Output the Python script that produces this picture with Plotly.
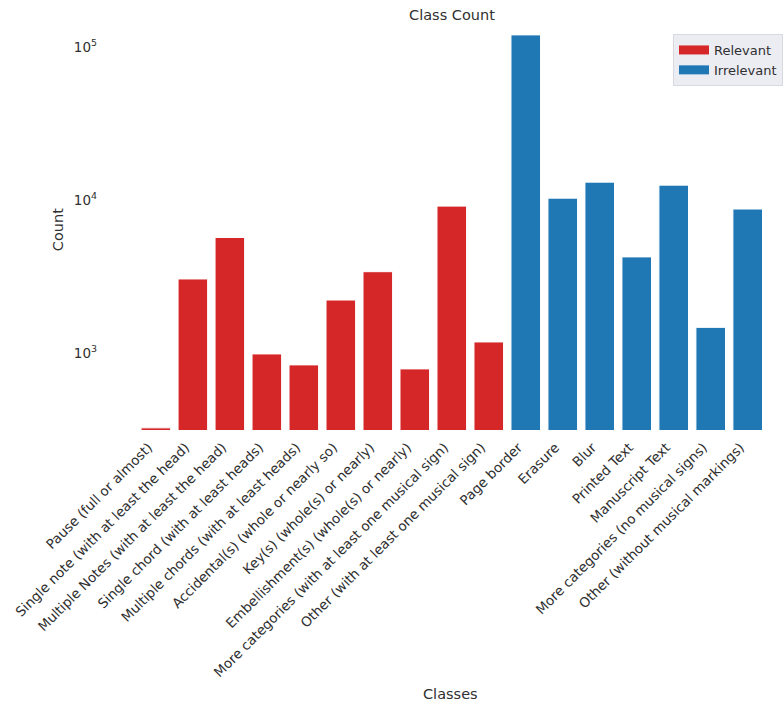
import plotly.graph_objects as go

relevant_classes = [
    "Pause (full or almost)",
    "Single note (with at least the head)",
    "Multiple Notes (with at least the head)",
    "Single chord (with at least heads)",
    "Multiple chords (with at least heads)",
    "Accidental(s) (whole or nearly so)",
    "Key(s) (whole(s) or nearly)",
    "Embellishment(s) (whole(s) or nearly)",
    "More categories (with at least one musical sign)",
    "Other (with at least one musical sign)",
]
relevant_counts = [325, 3050, 5690, 988, 838, 2222, 3402, 789, 9120, 1183]

irrelevant_classes = [
    "Page border",
    "Erasure",
    "Blur",
    "Printed Text",
    "Manuscript Text",
    "More categories (no musical signs)",
    "Other (without musical markings)",
]
irrelevant_counts = [119700, 10280, 13080, 4250, 12500, 1473, 8730]

ytick_vals = [1e3, 1e4, 1e5]
ytick_text = ["10<sup>3</sup>", "10<sup>4</sup>", "10<sup>5</sup>"]

FONT = "DejaVu Sans"
TXT = "#303030"
RED = "#d62728"
BLUE = "#1f77b4"

all_classes = relevant_classes + irrelevant_classes
n_rel = len(relevant_classes)
rel_pos = list(range(n_rel))
irr_pos = list(range(n_rel, n_rel + len(irrelevant_classes)))
LABEL_SHIFT = -0.2  # right-aligned rotated labels sit slightly left of the bar centre
tick_pos = [p + LABEL_SHIFT for p in rel_pos + irr_pos]

# plot area in pixels: x 110..783, y 30..430
L, R, T, B = 110, 783, 30, 430
PW, PH = R - L, B - T

fig = go.Figure()
fig.add_trace(go.Bar(
    x=rel_pos, y=relevant_counts, name="Relevant", showlegend=False,
    customdata=relevant_classes, hovertemplate="%{customdata}: %{y}<extra></extra>",
    marker=dict(color=RED, line=dict(color="white", width=1)),
    width=0.8,
))
fig.add_trace(go.Bar(
    x=irr_pos, y=irrelevant_counts, name="Irrelevant", showlegend=False,
    customdata=irrelevant_classes, hovertemplate="%{customdata}: %{y}<extra></extra>",
    marker=dict(color=BLUE, line=dict(color="white", width=1)),
    width=0.8,
))
# legend-only entries with wide rectangular patches
for name, col in [("Relevant", RED), ("Irrelevant", BLUE)]:
    fig.add_trace(go.Scatter(x=[None], y=[None], mode="lines", name=name,
                             line=dict(color=col, width=9), hoverinfo="skip"))

fig.update_layout(
    width=783, height=704,
    margin=dict(l=L, r=783 - R, t=T, b=704 - B),
    paper_bgcolor="white", plot_bgcolor="white",
    barmode="overlay",
    font=dict(family=FONT, color=TXT, size=13),
    title=dict(text="Class Count", x=452/783, xref="container", xanchor="center",
               y=1 - 15/704, yref="container", yanchor="middle",
               font=dict(size=14.5, color=TXT, family=FONT)),
    legend=dict(x=(675 - L) / PW, y=(B - 34) / PH, xanchor="left", yanchor="top",
                bgcolor="rgba(234,234,242,0.9)", bordercolor="#d8d8e0", borderwidth=1,
                font=dict(size=13, color=TXT, family=FONT),
                itemwidth=30, tracegroupgap=0),
    showlegend=True,
)
fig.update_xaxes(
    range=[-1.24, 16.9], tickvals=tick_pos, ticktext=all_classes,
    tickangle=-45, showgrid=False, zeroline=False,
    showline=False, ticks="", ticklabelstandoff=6,
    tickfont=dict(size=13.5, color=TXT, family=FONT),
    automargin=False,
)
fig.update_yaxes(
    type="log", range=[2.498, 5.11], tickvals=ytick_vals, ticktext=ytick_text,
    showgrid=False, zeroline=False, showline=False, ticks="",
    ticklabelstandoff=12, tickfont=dict(size=13.5, color=TXT, family=FONT),
    automargin=False,
)
fig.add_annotation(text="Classes", x=(452 - L) / PW, y=(B - 694) / PH,
                   xref="paper", yref="paper", showarrow=False,
                   font=dict(size=14.5, color=TXT, family=FONT),
                   xanchor="center", yanchor="middle")
fig.add_annotation(text="Count", x=(58 - L) / PW, y=(B - 230) / PH,
                   xref="paper", yref="paper", showarrow=False, textangle=-90,
                   font=dict(size=14.5, color=TXT, family=FONT),
                   xanchor="center", yanchor="middle")
fig.write_html("out.html")
